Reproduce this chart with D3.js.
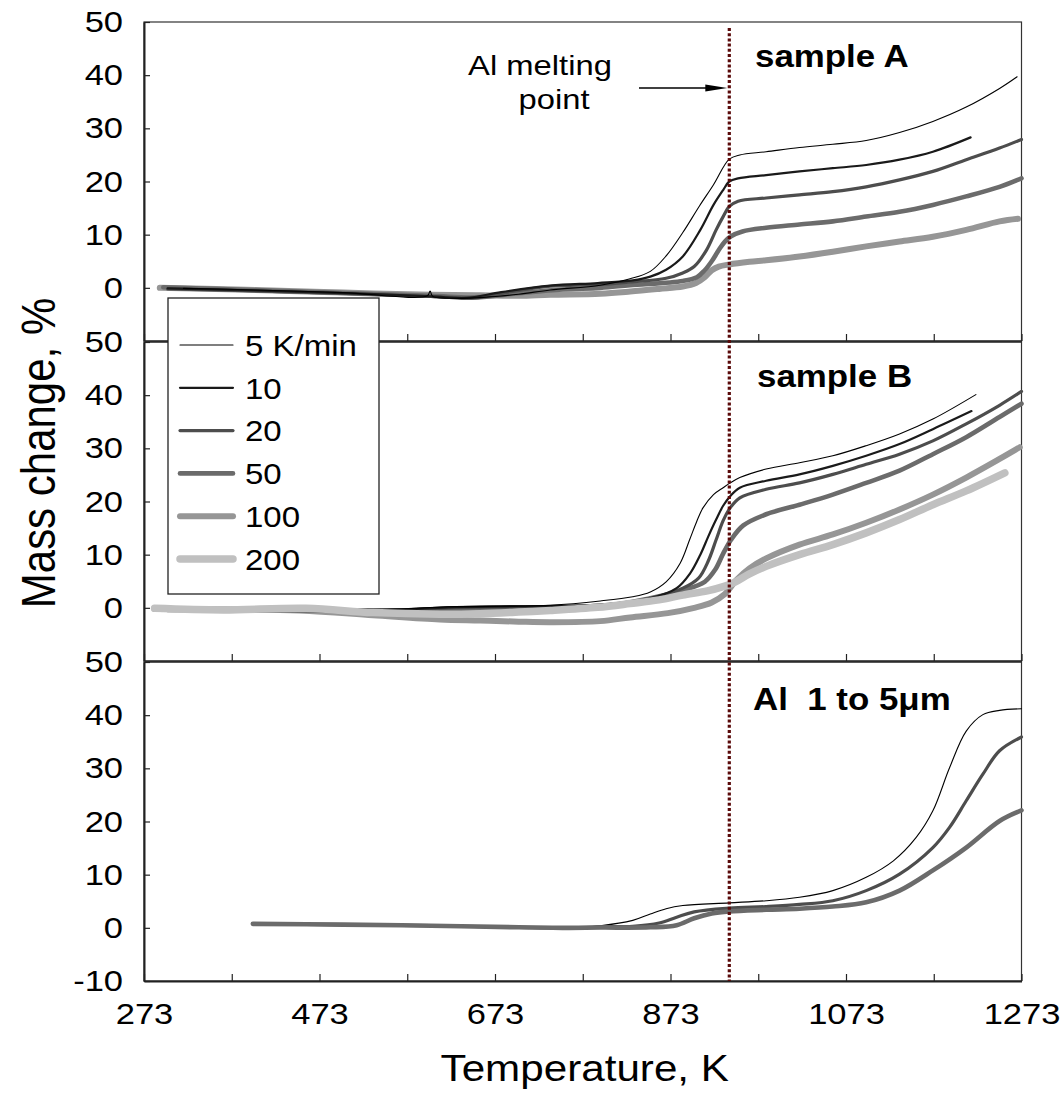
<!DOCTYPE html>
<meta charset="utf-8">

<head>
    <style>
        body { margin: 0; background: #fff; }
        text { font-family: "Liberation Sans", Arial, sans-serif; fill: #000; }
        .tick text { font-size: 30px; }
        .panel-label { font-size: 32px; font-weight: 700; white-space: pre; }
        .legend-label { font-size: 30px; }
        .note { font-size: 28px; text-anchor: middle; }
    </style>
</head>

<script src="https://d3js.org/d3.v7.min.js"></script>

<div id="chart"></div>

<script>
    // heating rates (legend)
    const rates = [5, 10, 20, 50, 100, 200];
    const rateLabels = ["5 K/min", "10", "20", "50", "100", "200"];

    // axis ticks
    const xTicks = [273, 373, 473, 573, 673, 773, 873, 973, 1073, 1173, 1273];
    const xLabels = [273, 473, 673, 873, 1073, 1273];
    const yTicks = [0, 10, 20, 30, 40, 50];
    const yTicksBottom = [-10, 0, 10, 20, 30, 40, 50];
    const meltT = 940;

    // sample A: [temperature K, mass change %]
    const a5 = [[318, -0.1], [400, -0.4], [500, -0.9], [596, -1.5], [599, -0.6], [602, -1.6], [621, -1.95], [660, -1.8], [700, -1.2], [736, -0.4], [793, 0.5], [827, 1.7], [850, 3.1], [868, 6.0], [887, 10.4], [906, 15.4], [922, 19.4], [940, 24.2], [952, 25.0], [982, 25.6], [1020, 26.4], [1058, 27.0], [1096, 27.7], [1134, 29.2], [1172, 31.3], [1210, 34.0], [1248, 37.5], [1268, 39.7]];
    const a10 = [[300, -0.1], [400, -0.5], [500, -1.0], [600, -1.6], [640, -1.9], [680, -0.8], [736, 0.4], [790, 0.9], [830, 1.4], [850, 2.1], [868, 3.4], [887, 5.9], [907, 10.9], [922, 15.6], [933, 18.4], [940, 20.0], [950, 20.6], [982, 21.2], [1020, 21.9], [1058, 22.5], [1096, 23.1], [1134, 24.1], [1172, 25.6], [1215, 28.3]];
    const a20 = [[300, -0.2], [450, -0.8], [600, -1.6], [650, -1.9], [685, -0.9], [736, 0.3], [790, 0.6], [827, 1.1], [868, 1.8], [887, 2.8], [900, 4.0], [914, 7.1], [925, 10.9], [933, 13.4], [940, 15.3], [950, 16.3], [982, 16.9], [1020, 17.5], [1058, 18.1], [1096, 19.0], [1134, 20.3], [1172, 21.9], [1210, 24.1], [1248, 26.3], [1273, 27.9]];
    const a50 = [[295, 0.1], [450, -0.7], [600, -1.5], [650, -1.8], [700, -1.0], [750, -0.3], [793, 0.0], [827, 0.5], [887, 1.3], [903, 2.0], [912, 3.3], [920, 5.0], [928, 7.1], [935, 8.7], [942, 9.7], [955, 10.6], [982, 11.3], [1020, 11.9], [1058, 12.5], [1096, 13.4], [1134, 14.3], [1172, 15.6], [1210, 17.2], [1248, 19.0], [1273, 20.6]];
    const a100 = [[291, 0.0], [400, -0.4], [500, -0.9], [600, -1.3], [656, -1.4], [700, -1.5], [736, -1.3], [793, -1.1], [827, -0.7], [860, -0.2], [887, 0.25], [902, 0.9], [912, 2.0], [920, 3.3], [928, 4.0], [940, 4.4], [963, 4.9], [982, 5.2], [1020, 5.9], [1058, 6.8], [1096, 7.8], [1134, 8.7], [1172, 9.6], [1210, 10.9], [1248, 12.5], [1269, 13.0]];

    // sample B
    const b5 = [[300, -0.1], [450, -0.2], [550, -0.3], [620, 0.2], [680, 0.3], [736, 0.5], [793, 1.3], [830, 2.1], [850, 3.0], [868, 4.9], [884, 8.4], [895, 12.9], [903, 16.3], [910, 18.8], [922, 21.3], [933, 22.6], [941, 23.5], [952, 24.5], [982, 26.1], [1020, 27.3], [1058, 28.6], [1096, 30.5], [1134, 32.7], [1172, 35.5], [1221, 40.1]];
    const b10 = [[300, -0.2], [450, -0.3], [560, -0.3], [620, 0.1], [700, 0.3], [793, 0.6], [850, 1.8], [880, 3.7], [895, 6.4], [907, 10.0], [916, 13.4], [925, 16.6], [933, 19.2], [941, 21.0], [952, 22.6], [982, 23.9], [1020, 25.1], [1058, 26.7], [1096, 28.6], [1134, 30.8], [1172, 33.6], [1216, 37.0]];
    const b20 = [[300, -0.3], [450, -0.4], [560, -0.4], [620, 0.0], [700, 0.2], [793, 0.5], [850, 1.8], [887, 3.7], [905, 5.6], [916, 8.8], [925, 12.8], [933, 16.4], [941, 18.8], [952, 20.7], [982, 22.3], [1020, 23.5], [1058, 25.1], [1096, 27.0], [1134, 28.9], [1172, 31.4], [1210, 34.6], [1248, 38.1], [1273, 40.7]];
    const b50 = [[300, -0.4], [450, -0.5], [560, -0.6], [620, -0.2], [700, 0.0], [793, 0.2], [850, 1.8], [887, 3.3], [912, 4.9], [924, 7.2], [933, 10.2], [942, 12.8], [956, 15.5], [982, 17.6], [1020, 19.4], [1058, 21.3], [1096, 23.5], [1134, 25.8], [1172, 28.9], [1210, 32.1], [1248, 35.9], [1273, 38.4]];
    const b100 = [[285, -0.2], [450, -0.5], [534, -1.4], [610, -2.2], [656, -2.4], [700, -2.6], [736, -2.7], [793, -2.5], [827, -1.8], [870, -1.0], [900, 0.0], [920, 1.0], [935, 2.6], [948, 5.2], [963, 7.4], [982, 9.3], [1020, 11.9], [1058, 13.8], [1096, 16.0], [1134, 18.5], [1172, 21.3], [1210, 24.5], [1248, 28.0], [1271, 30.2]];
    const b200 = [[285, -0.1], [363, -0.4], [458, -0.1], [534, -0.9], [610, -1.2], [656, -1.1], [700, -0.8], [736, -0.5], [790, 0.1], [827, 0.8], [860, 1.5], [887, 2.4], [915, 3.2], [933, 4.0], [946, 4.8], [963, 6.4], [982, 7.8], [1020, 10.0], [1058, 11.9], [1096, 14.1], [1134, 16.6], [1172, 19.4], [1210, 22.0], [1254, 25.4]];

    // Al 1 to 5 um
    const c5 = [[397, 0.75], [500, 0.6], [600, 0.4], [700, 0.1], [750, 0.0], [793, 0.4], [830, 1.4], [850, 2.6], [868, 3.6], [887, 4.2], [940, 4.7], [982, 5.1], [1020, 5.75], [1058, 7.0], [1096, 9.5], [1127, 12.6], [1153, 17.0], [1172, 22.0], [1191, 30.1], [1210, 37.0], [1229, 40.1], [1248, 40.9], [1273, 41.2]];
    const c20 = [[397, 0.75], [500, 0.6], [600, 0.4], [700, 0.1], [750, 0.0], [793, 0.2], [830, 0.3], [860, 0.9], [880, 2.0], [900, 3.0], [940, 3.7], [982, 4.0], [1020, 4.4], [1058, 5.1], [1096, 7.0], [1134, 10.1], [1172, 15.1], [1191, 18.9], [1210, 23.9], [1229, 28.9], [1248, 33.3], [1273, 35.9]];
    const c50 = [[397, 0.75], [500, 0.6], [600, 0.4], [700, 0.1], [750, 0.0], [793, 0.05], [850, 0.1], [880, 0.5], [900, 1.8], [920, 2.7], [940, 3.1], [982, 3.4], [1020, 3.6], [1058, 4.0], [1096, 4.8], [1134, 7.0], [1172, 10.8], [1210, 15.1], [1248, 20.1], [1273, 22.1]];

    // line look per heating rate
    const lineStyle = {
        5: { c: "#000", w: 1.1 },
        10: { c: "#1a1a1a", w: 2.2 },
        20: { c: "#4d4d4d", w: 3.2 },
        50: { c: "#6b6b6b", w: 4.6 },
        100: { c: "#969696", w: 6 },
        200: { c: "#c0c0c0", w: 7.5 }
    };

    const panels = [
        { label: "sample A", lx: 755, ly: 67, series: [[100, a100], [50, a50], [20, a20], [10, a10], [5, a5]] },
        { label: "sample B", lx: 757, ly: 387, series: [[100, b100], [50, b50], [20, b20], [10, b10], [5, b5], [200, b200]] },
        { label: "Al  1 to 5\u03bcm", lx: 753, ly: 710, series: [[5, c5], [20, c20], [50, c50]] }
    ];

    const W = 1063, H = 1093;
    const left = 144, right = 1021.5;
    const panelTop = [22, 342, 662], panelH = 319;

    const svg = d3.select("#chart").append("svg")
        .attr("width", W).attr("height", H);

    const x = d3.scaleLinear().domain([273, 1273]).range([left, right]);

    // widen text a little, the original figure is stretched sideways
    function stretch(sel, k) {
        sel.each(function () {
            const L = this.getComputedTextLength();
            if (L > 0) {
                this.setAttribute("textLength", L * k);
                this.setAttribute("lengthAdjust", "spacingAndGlyphs");
            }
        });
    }

    const line = d3.line().curve(d3.curveCatmullRom.alpha(0.5));

    panels.forEach(function (p, i) {
        const top = panelTop[i];
        const last = i === panels.length - 1;
        const y = d3.scaleLinear().domain([-10, 50]).range([top + panelH, top]);

        // frame
        svg.append("rect")
            .attr("x", left).attr("y", top)
            .attr("width", right - left).attr("height", panelH)
            .attr("fill", "none").attr("stroke", "#333").attr("stroke-width", 1.2);

        // curves
        p.series.forEach(function (s) {
            const st = lineStyle[s[0]];
            line.x(d => x(d[0])).y(d => y(d[1]));
            svg.append("path")
                .attr("d", line(s[1]))
                .attr("fill", "none")
                .attr("stroke", st.c)
                .attr("stroke-width", st.w)
                .attr("stroke-linecap", "round")
                .attr("stroke-linejoin", "round");
        });

        // Y axis
        const ya = svg.append("g")
            .attr("transform", "translate(" + left + ",0)")
            .call(d3.axisLeft(y).tickValues(last ? yTicksBottom : yTicks)
                .tickSizeInner(-6).tickSizeOuter(0).tickPadding(21)
                .tickFormat(d => String(d)));
        ya.select(".domain").attr("stroke", "#222").attr("stroke-width", 2);
        ya.selectAll(".tick line").attr("stroke", "#222").attr("stroke-width", 1.2);

        // X axis
        const xa = svg.append("g")
            .attr("transform", "translate(0," + (top + panelH) + ")")
            .call(d3.axisBottom(x).tickValues(xTicks)
                .tickSizeInner(-7).tickSizeOuter(0).tickPadding(22)
                .tickFormat(d => (last && xLabels.includes(d)) ? String(d) : ""));
        xa.select(".domain").attr("stroke", "#222").attr("stroke-width", 2);
        xa.selectAll(".tick line").attr("stroke", "#222").attr("stroke-width", 1.2);

        svg.append("text")
            .attr("class", "panel-label")
            .attr("x", p.lx).attr("y", p.ly)
            .text(p.label);
    });

    svg.selectAll(".tick text").attr("font-family", null).attr("font-size", null);
    stretch(svg.selectAll(".tick text"), 1.15);
    stretch(svg.selectAll(".panel-label"), 1.09);

    // melting point line
    svg.append("line")
        .attr("x1", x(meltT)).attr("x2", x(meltT))
        .attr("y1", 28).attr("y2", panelTop[2] + panelH)
        .attr("stroke", "#5a0a0a").attr("stroke-width", 3.2)
        .attr("stroke-dasharray", "3,2.2");

    // annotation
    const note = svg.append("g");
    note.append("text").attr("class", "note").attr("x", 540).attr("y", 75).text("Al melting");
    note.append("text").attr("class", "note").attr("x", 554).attr("y", 109).text("point");
    stretch(note.selectAll("text"), 1.17);
    note.append("line")
        .attr("x1", 639).attr("x2", x(meltT) - 20)
        .attr("y1", 88).attr("y2", 88)
        .attr("stroke", "#000").attr("stroke-width", 1.3);
    note.append("path")
        .attr("d", "M" + (x(meltT) - 2) + ",88 l-22,-3.6 l0,7.2 z")
        .attr("fill", "#000");

    // legend
    const lg = svg.append("g");
    lg.append("rect")
        .attr("x", 168).attr("y", 298).attr("width", 211).attr("height", 296)
        .attr("fill", "#fff").attr("stroke", "#222").attr("stroke-width", 1.3);
    rates.forEach(function (r, i) {
        const yy = 345 + i * 42.8;
        lg.append("line")
            .attr("x1", 180).attr("x2", 233).attr("y1", yy).attr("y2", yy)
            .attr("stroke", lineStyle[r].c).attr("stroke-width", lineStyle[r].w)
            .attr("stroke-linecap", "round");
        lg.append("text")
            .attr("class", "legend-label")
            .attr("x", 245).attr("y", yy).attr("dy", "0.36em")
            .text(rateLabels[i]);
    });
    stretch(lg.selectAll("text"), 1.1);

    // axis titles
    const xt = svg.append("text")
        .attr("x", (left + right) / 2 + 2).attr("y", 1081)
        .attr("text-anchor", "middle")
        .style("font-size", "37px")
        .text("Temperature, K");
    stretch(xt, 1.14);

    svg.append("text")
        .attr("transform", "translate(55,453) rotate(-90) scale(1,1.15)")
        .attr("text-anchor", "middle")
        .style("font-size", "42px")
        .text("Mass change, %");
</script>
